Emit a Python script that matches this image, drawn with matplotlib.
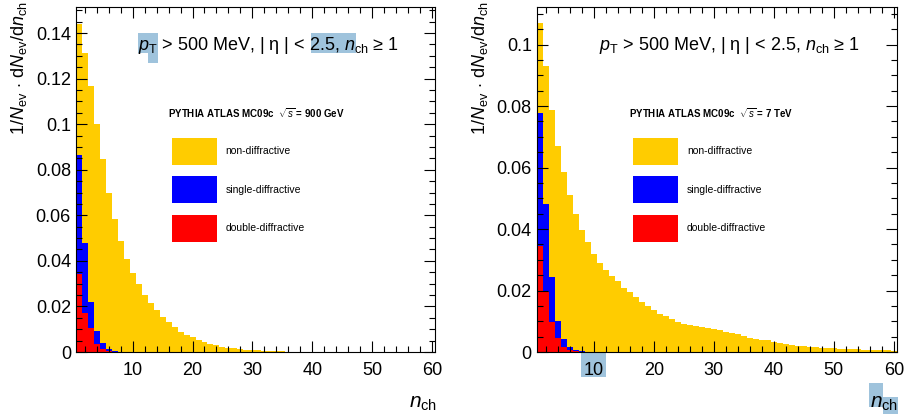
import numpy as np
import matplotlib
matplotlib.use('Agg')
import matplotlib.pyplot as plt
from matplotlib.ticker import MultipleLocator, FuncFormatter
from matplotlib.patches import Rectangle

plt.rcParams['font.family'] = ['Liberation Sans', 'DejaVu Sans']
plt.rcParams['mathtext.fontset'] = 'custom'
plt.rcParams['mathtext.rm'] = 'Liberation Sans'
plt.rcParams['mathtext.it'] = 'Liberation Sans:italic'
plt.rcParams['mathtext.bf'] = 'Liberation Sans:bold'

# 1/Nev dNev/dnch per bin, nch = 1, 2, 3, ...
# sqrt(s) = 900 GeV
nd_900 = [0.1441, 0.1314, 0.1167, 0.1003, 0.0849, 0.0699, 0.0585, 0.0489, 0.0408, 0.0347,
          0.0297, 0.0250, 0.0214, 0.0184, 0.0155, 0.0133, 0.0111, 0.0089, 0.0075, 0.0064,
          0.0053, 0.0043, 0.0035, 0.0029, 0.0023, 0.0019, 0.0016, 0.0013, 0.0010, 0.0008,
          0.0007, 0.0006, 0.0005, 0.0004, 0.0003, 0.0002]
sd_900 = [0.0864, 0.0479, 0.0221, 0.0092, 0.0038, 0.0015, 0.0006, 0.0002]
dd_900 = [0.0342, 0.0172, 0.0104, 0.0035, 0.0015, 0.0005]

# sqrt(s) = 7 TeV
nd_7 = [0.1069, 0.0931, 0.0787, 0.0671, 0.0586, 0.0512, 0.0450, 0.0398, 0.0358, 0.0320,
        0.0290, 0.0268, 0.0247, 0.0230, 0.0209, 0.0194, 0.0178, 0.0162, 0.0149, 0.0136,
        0.0125, 0.0116, 0.0106, 0.0099, 0.0092, 0.0088, 0.0085, 0.0082, 0.0079, 0.0075,
        0.0071, 0.0066, 0.0061, 0.0057, 0.0051, 0.0046, 0.0042, 0.0039, 0.0038, 0.0034,
        0.0029, 0.0025, 0.0023, 0.0021, 0.0018, 0.0017, 0.0015, 0.0014, 0.0013, 0.0012,
        0.0011, 0.0010, 0.0009, 0.0009, 0.0008, 0.0008, 0.0006, 0.0006, 0.0005, 0.0004]
sd_7 = [0.0778, 0.0481, 0.0245, 0.0102, 0.0041, 0.0017, 0.0006, 0.0002]
dd_7 = [0.0345, 0.0196, 0.0099, 0.0044, 0.0016, 0.0006, 0.0002]

labels = ['non-diffractive', 'single-diffractive', 'double-diffractive']
colors = ['#ffcc00', '#0000ff', '#ff0000']
energies = ['900 GeV', '7 TeV']
panels = [(nd_900, sd_900, dd_900), (nd_7, sd_7, dd_7)]
y_tops = [0.1513, 0.1121]

fig = plt.figure(figsize=(9.06, 4.16), dpi=100)
positions = [[0.0836, 0.1538, 0.3966, 0.8286], [0.5924, 0.1538, 0.3974, 0.8286]]

fmt = FuncFormatter(lambda v, p: f'{v:g}')

for pos, series, energy, ytop in zip(positions, panels, energies, y_tops):
    ax = fig.add_axes(pos)
    ax.set_facecolor('none')
    for vals, c, lab in zip(series, colors, labels):
        edges = np.arange(len(vals) + 1) + 0.5
        ax.stairs(vals, edges, fill=True, color=c, lw=0, label=lab)

    ax.set_xlim(0.5, 60.5)
    ax.set_ylim(0, ytop)
    ax.xaxis.set_major_locator(MultipleLocator(10))
    ax.xaxis.set_minor_locator(MultipleLocator(2))
    ax.yaxis.set_major_locator(MultipleLocator(0.02))
    ax.yaxis.set_minor_locator(MultipleLocator(0.005))
    ax.yaxis.set_major_formatter(fmt)
    ax.tick_params(which='both', direction='in', top=True, right=True,
                   labelsize=13, width=0.8)
    ax.tick_params(which='major', length=8)
    ax.tick_params(which='minor', length=4)
    ax.tick_params(axis='x', pad=7)
    ax.tick_params(axis='y', pad=3.5)
    for s in ax.spines.values():
        s.set_linewidth(0.8)

    ax.set_ylabel(r'$1/N_{\rm ev}\,\cdot\,{\rm d}N_{\rm ev}/{\rm d}n_{\rm ch}$',
                  fontsize=13, loc='top')
    ax.yaxis.set_label_coords(-0.130, 1.02)
    ax.set_xlabel(r'$n_{\rm ch}$', fontsize=15, loc='right')
    ax.xaxis.set_label_coords(1.005, -0.122)

    ax.text(0.174, 0.876, r'$p_{\rm T}$ > 500 MeV, | η | < 2.5, $n_{\rm ch}$ ≥ 1',
            fontsize=13, transform=ax.transAxes, va='baseline')
    ax.text(0.257, 0.679, r'PYTHIA ATLAS MC09c  $\sqrt{s}$ = ' + energy,
            fontsize=7, fontweight='bold', transform=ax.transAxes, va='baseline')
    ax.legend(loc='upper left', bbox_to_anchor=(0.267, 0.621), frameon=False,
              fontsize=7.5, handlelength=4.32, handleheight=3.61, labelspacing=1.10,
              handletextpad=0.86, borderpad=0, borderaxespad=0)

# text selection highlights seen in the source image (pixel boxes)
hl_boxes = [(138, 33, 158, 53), (148, 52, 158, 63), (311, 33, 356, 53),
            (581, 353, 606, 377), (869, 383, 883, 407), (883, 397, 898, 414)]
for x0, y0, x1, y1 in hl_boxes:
    fig.add_artist(Rectangle((x0 / 906, 1 - y1 / 416), (x1 - x0) / 906, (y1 - y0) / 416,
                             transform=fig.transFigure, fc='#9fc3dc', ec='none', zorder=-1))

fig.savefig('out.png', dpi=100)
